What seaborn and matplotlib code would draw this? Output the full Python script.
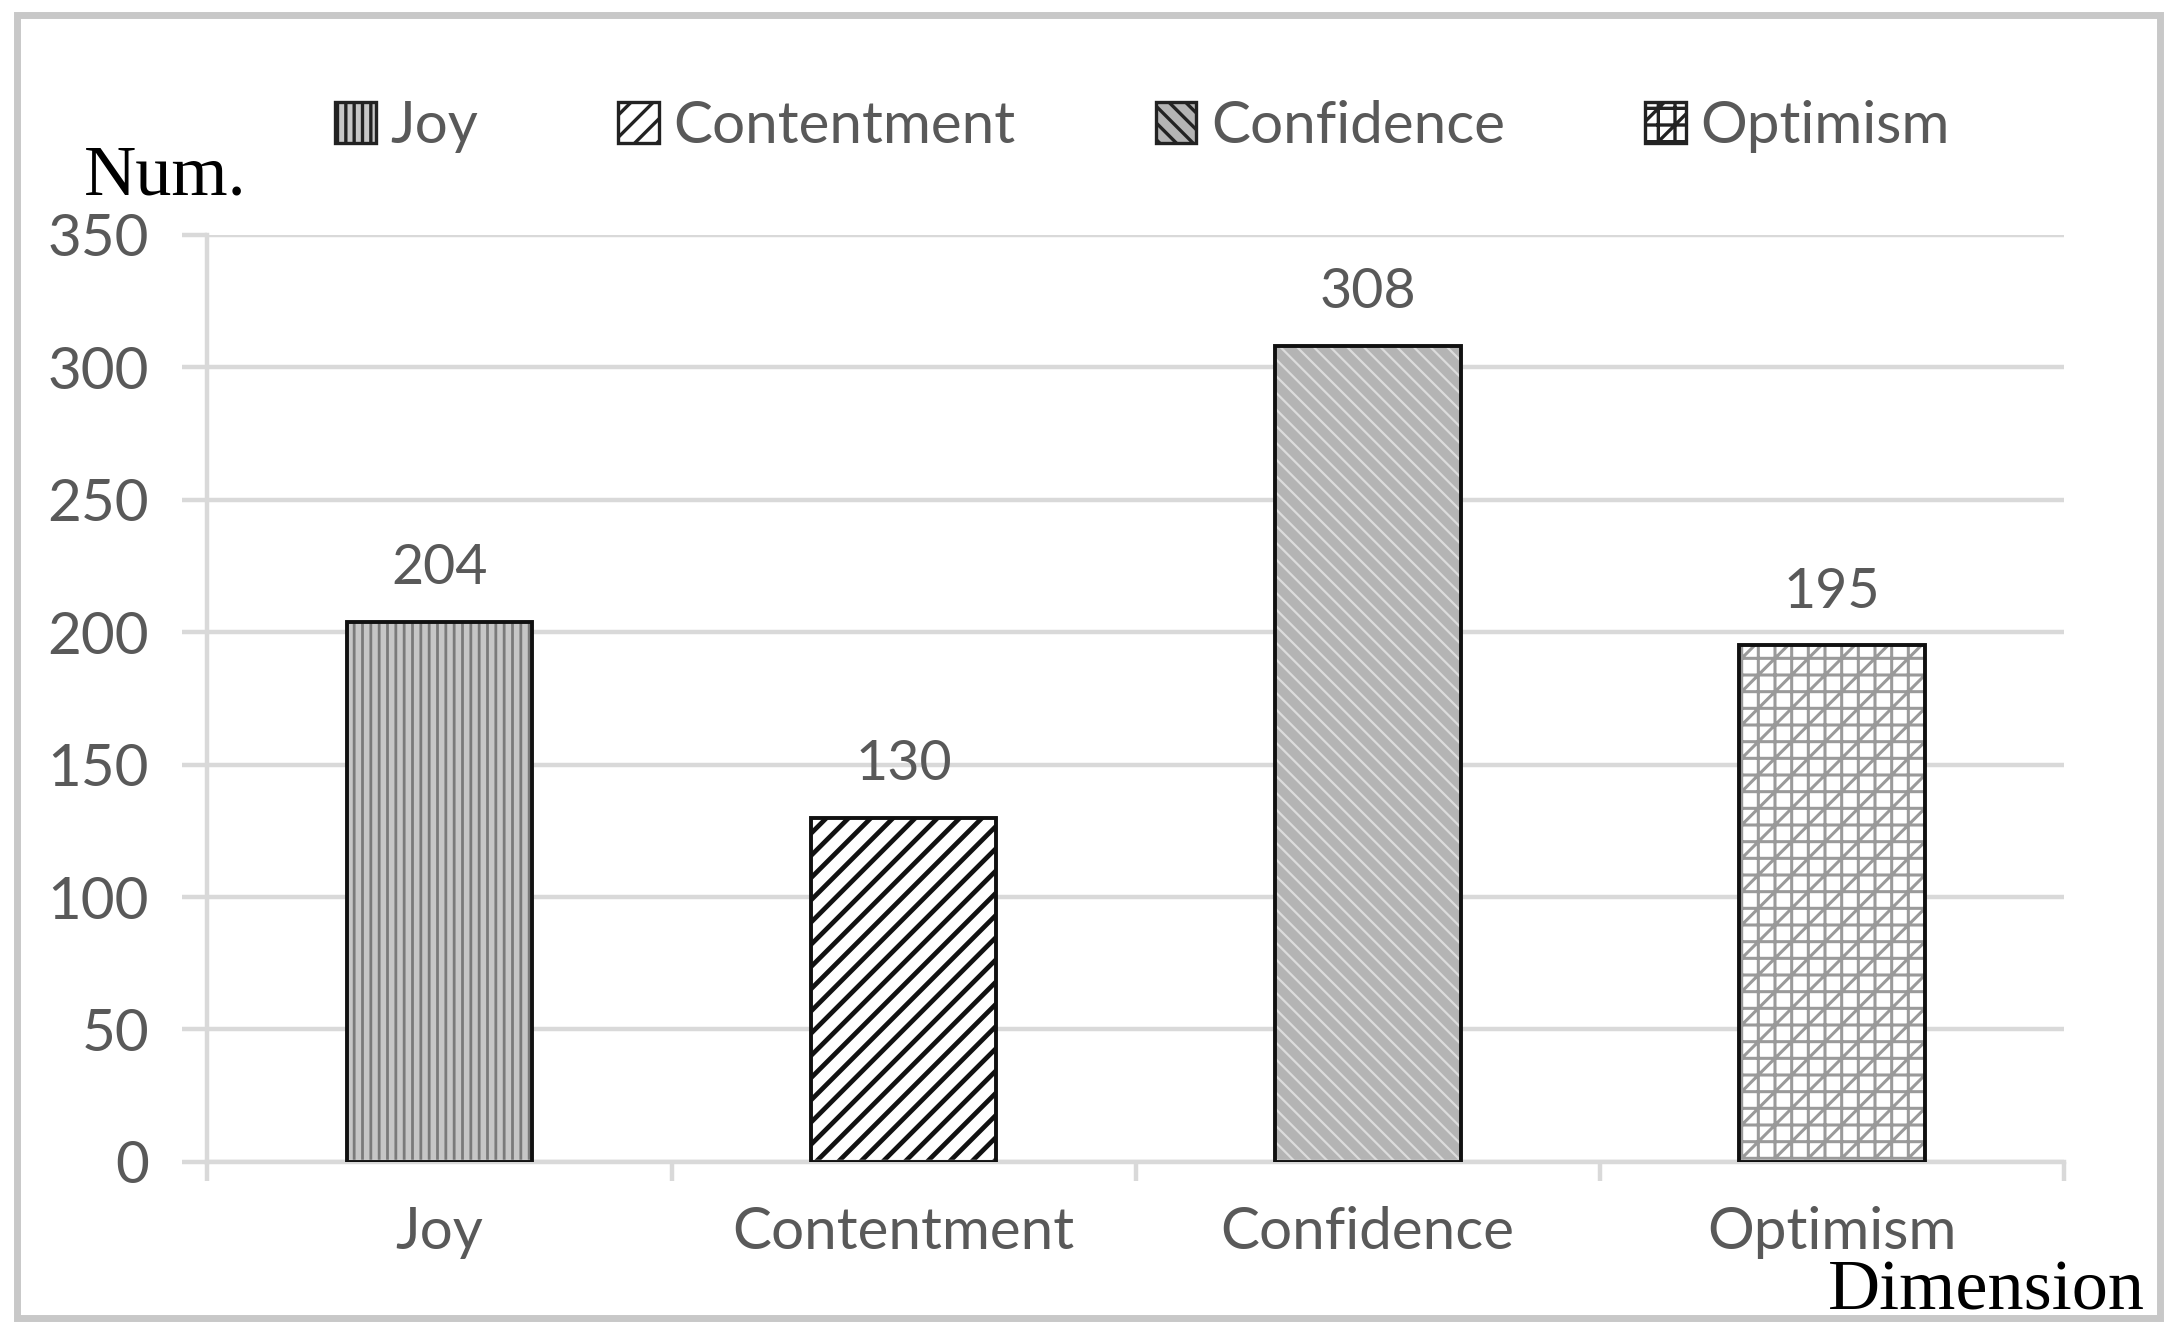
import matplotlib
matplotlib.use("Agg")
import numpy as np
import pandas as pd
import matplotlib.pyplot as plt
import seaborn as sns
from matplotlib.patches import Patch, Rectangle

categories = ["Joy", "Contentment", "Confidence", "Optimism"]
counts = [204, 130, 308, 195]
y_ticks = [0, 50, 100, 150, 200, 250, 300, 350]

fill_colors = ["#c6c6c6", "#ffffff", "#b4b4b4", "#ffffff"]
hatch_colors = ["#7a7a7a", "#111111", "#dcdcdc", "#9a9a9a"]
hatches = ["||||", "///", "\\\\\\\\", "++//"]
hatch_widths = [1.0, 1.7, 0.8, 1.1]

sns.set_theme(style="white")
plt.rcParams["font.family"] = ["Lato", "DejaVu Sans"]
plt.rcParams["hatch.linewidth"] = 1.2

df = pd.DataFrame({"dimension": categories, "num": counts})

fig = plt.figure(figsize=(10.92, 6.67), dpi=200)
ax = fig.add_axes([0.095, 0.129, 0.85, 0.695])

sns.barplot(data=df, x="dimension", y="num", hue="dimension",
            palette=dict(zip(categories, fill_colors)), width=0.4,
            legend=False, ax=ax, zorder=2)
for i, p in enumerate(ax.patches):
    p.set_hatch(hatches[i])
    p.set_edgecolor(hatch_colors[i])
    p.set_linewidth(0)
    if hasattr(p, "set_hatch_linewidth"):
        p.set_hatch_linewidth(hatch_widths[i])
n_fill = len(ax.patches)

# outline layer
sns.barplot(data=df, x="dimension", y="num", color="white", width=0.4, ax=ax, zorder=3)
for p in ax.patches[n_fill:]:
    p.set_facecolor("none")
    p.set_edgecolor("#111111")
    p.set_linewidth(1.4)

for c in ax.containers[:len(categories)]:
    ax.bar_label(c, fmt="%d", padding=10, fontsize=20, color="#595959")

ax.set_ylim(0, 350)
ax.set_xlim(-0.5, len(categories) - 0.5)
ax.set_yticks(y_ticks)
ax.yaxis.grid(True, color="#d9d9d9", linewidth=1.6, zorder=0)
ax.set_axisbelow(True)
ax.set_xlabel("")
ax.set_ylabel("")

for s in ["top", "right"]:
    ax.spines[s].set_visible(False)
for s in ["left", "bottom"]:
    ax.spines[s].set_color("#d9d9d9")
    ax.spines[s].set_linewidth(1.6)

ax.tick_params(axis="y", which="major", direction="out", length=9, width=1.6,
               color="#d9d9d9", labelsize=21, labelcolor="#595959", pad=12, left=True)
ax.set_xticks(np.arange(-0.5, len(categories)), minor=True)
ax.tick_params(axis="x", which="minor", direction="out", length=7, width=1.6,
               color="#d9d9d9", bottom=True)
ax.tick_params(axis="x", which="major", length=0, labelsize=21,
               labelcolor="#595959", pad=16)

handles = [Patch(facecolor=fill_colors[i], edgecolor="#222222", hatch=hatches[i],
                 linewidth=1.2, label=categories[i]) for i in range(len(categories))]
leg = fig.legend(handles=handles, loc="center", bbox_to_anchor=(0.523, 0.905),
                 ncol=4, frameon=False, fontsize=21, handlelength=0.7,
                 handleheight=0.7, handletextpad=0.25, columnspacing=2.4,
                 borderpad=0)
for t in leg.get_texts():
    t.set_color("#595959")

fig.text(0.0385, 0.854, "Num.", family="Liberation Serif", fontsize=26,
         color="black", ha="left", va="baseline")
fig.text(0.982, 0.018, "Dimension", family="Liberation Serif", fontsize=26,
         color="black", ha="right", va="baseline")

fig.patches.append(Rectangle((0.008, 0.012), 0.981, 0.977, transform=fig.transFigure,
                             fill=False, edgecolor="#c8c8c8", linewidth=2.5))

fig.savefig("out.png", dpi=200)
